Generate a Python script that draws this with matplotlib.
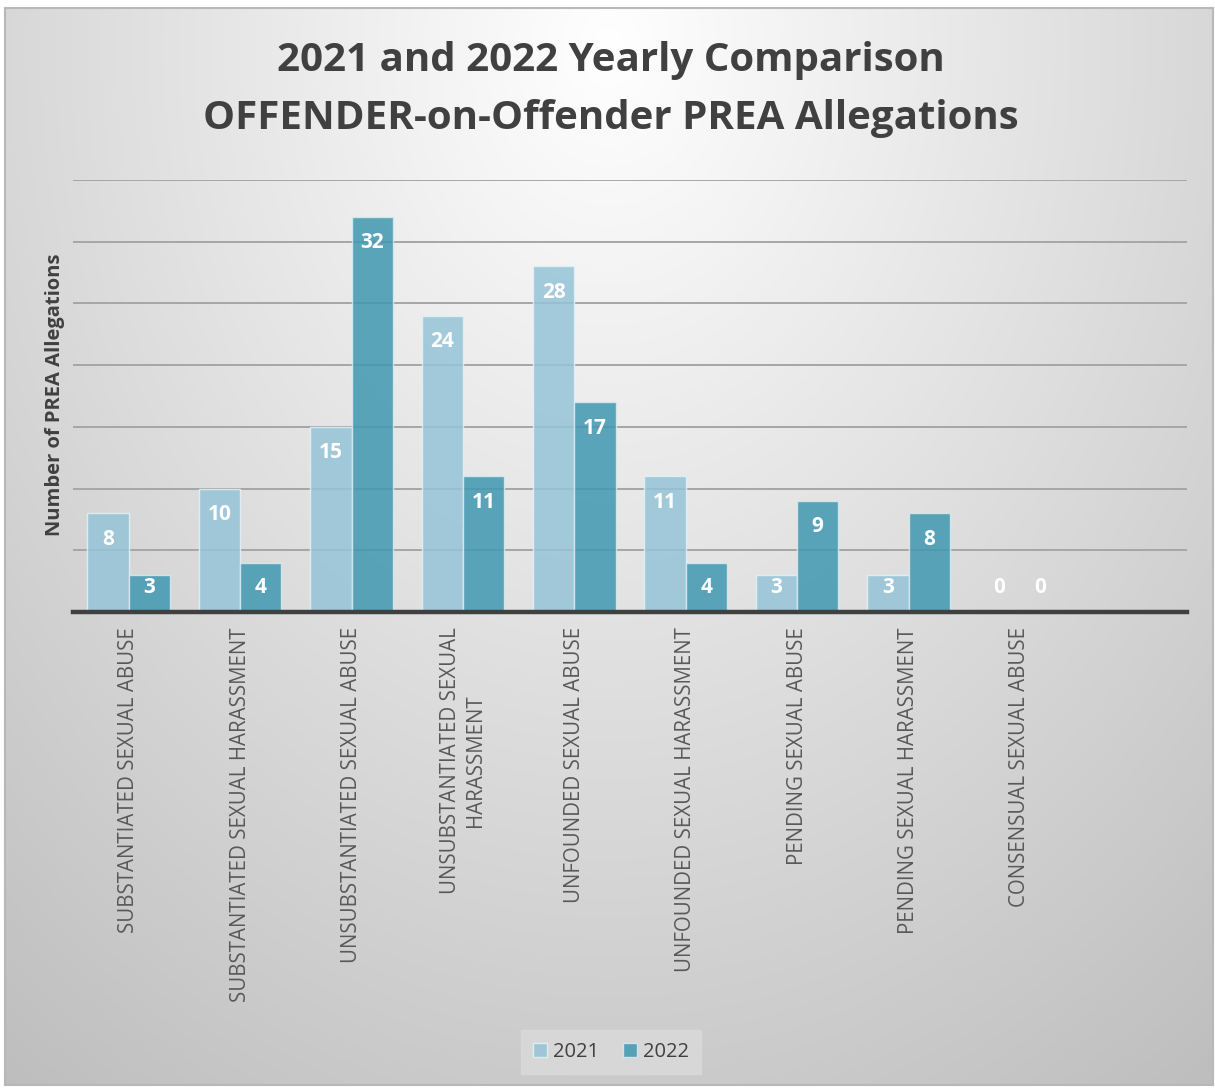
import numpy as np
import matplotlib.pyplot as plt

# data
categories = [
    'SUBSTANTIATED SEXUAL ABUSE',
    'SUBSTANTIATED SEXUAL HARASSMENT',
    'UNSUBSTANTIATED SEXUAL ABUSE',
    'UNSUBSTANTIATED SEXUAL\nHARASSMENT',
    'UNFOUNDED SEXUAL ABUSE',
    'UNFOUNDED SEXUAL HARASSMENT',
    'PENDING SEXUAL ABUSE',
    'PENDING SEXUAL HARASSMENT',
    'CONSENSUAL SEXUAL ABUSE',
]
v2021 = [8, 10, 15, 24, 28, 11, 3, 3, 0]
v2022 = [3, 4, 32, 11, 17, 4, 9, 8, 0]
years = ['2021', '2022']

c2021 = '#95C4D7'
c2022 = '#4098B1'
dark = '#404040'

W, H = 1215, 1089
fig = plt.figure(figsize=(W / 100, H / 100), dpi=100, facecolor='white')

# background gradient panel with border
bg = fig.add_axes([5 / W, 4 / H, 1208 / W, 1077 / H])
yy, xx = np.mgrid[0:H, 0:W]
r = np.sqrt(((xx - 607) / 850.0) ** 2 + ((yy - 40) / 1100.0) ** 2)
g = np.clip(255 - 55 * r, 0, 255) / 255.0
bg.imshow(np.dstack([g, g, g]), aspect='auto', extent=[0, 1, 0, 1], origin='upper')
bg.set_xticks([])
bg.set_yticks([])
for s in bg.spines.values():
    s.set_color('#B8B8B8')
    s.set_linewidth(1.5)

ax = fig.add_axes([73 / W, 1 - 612 / H, 1114 / W, 432 / H])
ax.patch.set_alpha(0)
x = np.arange(len(categories))
bw = 0.37
ax.set_xlim(-0.5, 9.5)
ax.set_ylim(0, 35)
ax.set_yticks(np.arange(0, 36, 5))
ax.yaxis.grid(True, color='#A6A6A6', linewidth=1.4, zorder=0)
ax.set_axisbelow(True)
ax.tick_params(axis='y', length=0, labelleft=False)
ax.tick_params(axis='x', length=0, pad=11)
for s in ['top', 'right', 'left']:
    ax.spines[s].set_visible(False)
ax.spines['bottom'].set_color(dark)
ax.spines['bottom'].set_linewidth(3.2)
ax.spines['bottom'].set_zorder(5)

b1 = ax.bar(x - bw / 2, v2021, bw, color=c2021, alpha=0.85, edgecolor='#E4F2F6',
            linewidth=1, label=years[0], zorder=2)
b2 = ax.bar(x + bw / 2, v2022, bw, color=c2022, alpha=0.85, edgecolor='#D8ECF1',
            linewidth=1, label=years[1], zorder=2)

for xs, vals in [(x - bw / 2, v2021), (x + bw / 2, v2022)]:
    for xi, v in zip(xs, vals):
        ax.text(xi, max(v - 2.1, 2.0), str(v), ha='center', va='center', color='white',
                fontsize=15, fontweight='bold', family='Open Sans', zorder=6)

ax.set_xticks(x)
ax.set_xticklabels(categories, rotation=90, fontsize=14.8, color='#595959',
                   family='Open Sans', va='top', ha='center', multialignment='center')

fig.text(55 / W, 1 - 395 / H, 'Number of PREA Allegations', rotation=90, ha='center',
         va='center', fontsize=14.5, fontweight='bold', color=dark, family='Open Sans')

fig.text(611 / W, 1 - 60 / H, '2021 and 2022 Yearly Comparison', ha='center', va='center',
         fontsize=29, fontweight='bold', color=dark, family='Open Sans')
fig.text(611 / W, 1 - 118 / H, 'OFFENDER-on-Offender PREA Allegations', ha='center',
         va='center', fontsize=29, fontweight='bold', color=dark, family='Open Sans')

leg = fig.legend(handles=[b1, b2], labels=years, loc='center', bbox_to_anchor=(611 / W, 1 - 1052 / H),
                 ncol=2, frameon=True, fancybox=False, fontsize=14.5, handlelength=0.7,
                 handleheight=0.7, handletextpad=0.3, columnspacing=1.2, borderpad=0.6)
leg.get_frame().set_facecolor('#D9D9D9')
leg.get_frame().set_edgecolor('#D9D9D9')
leg.get_frame().set_alpha(0.9)
for t in leg.get_texts():
    t.set_color(dark)
    t.set_family('Open Sans')

fig.savefig('out.png', dpi=100)
